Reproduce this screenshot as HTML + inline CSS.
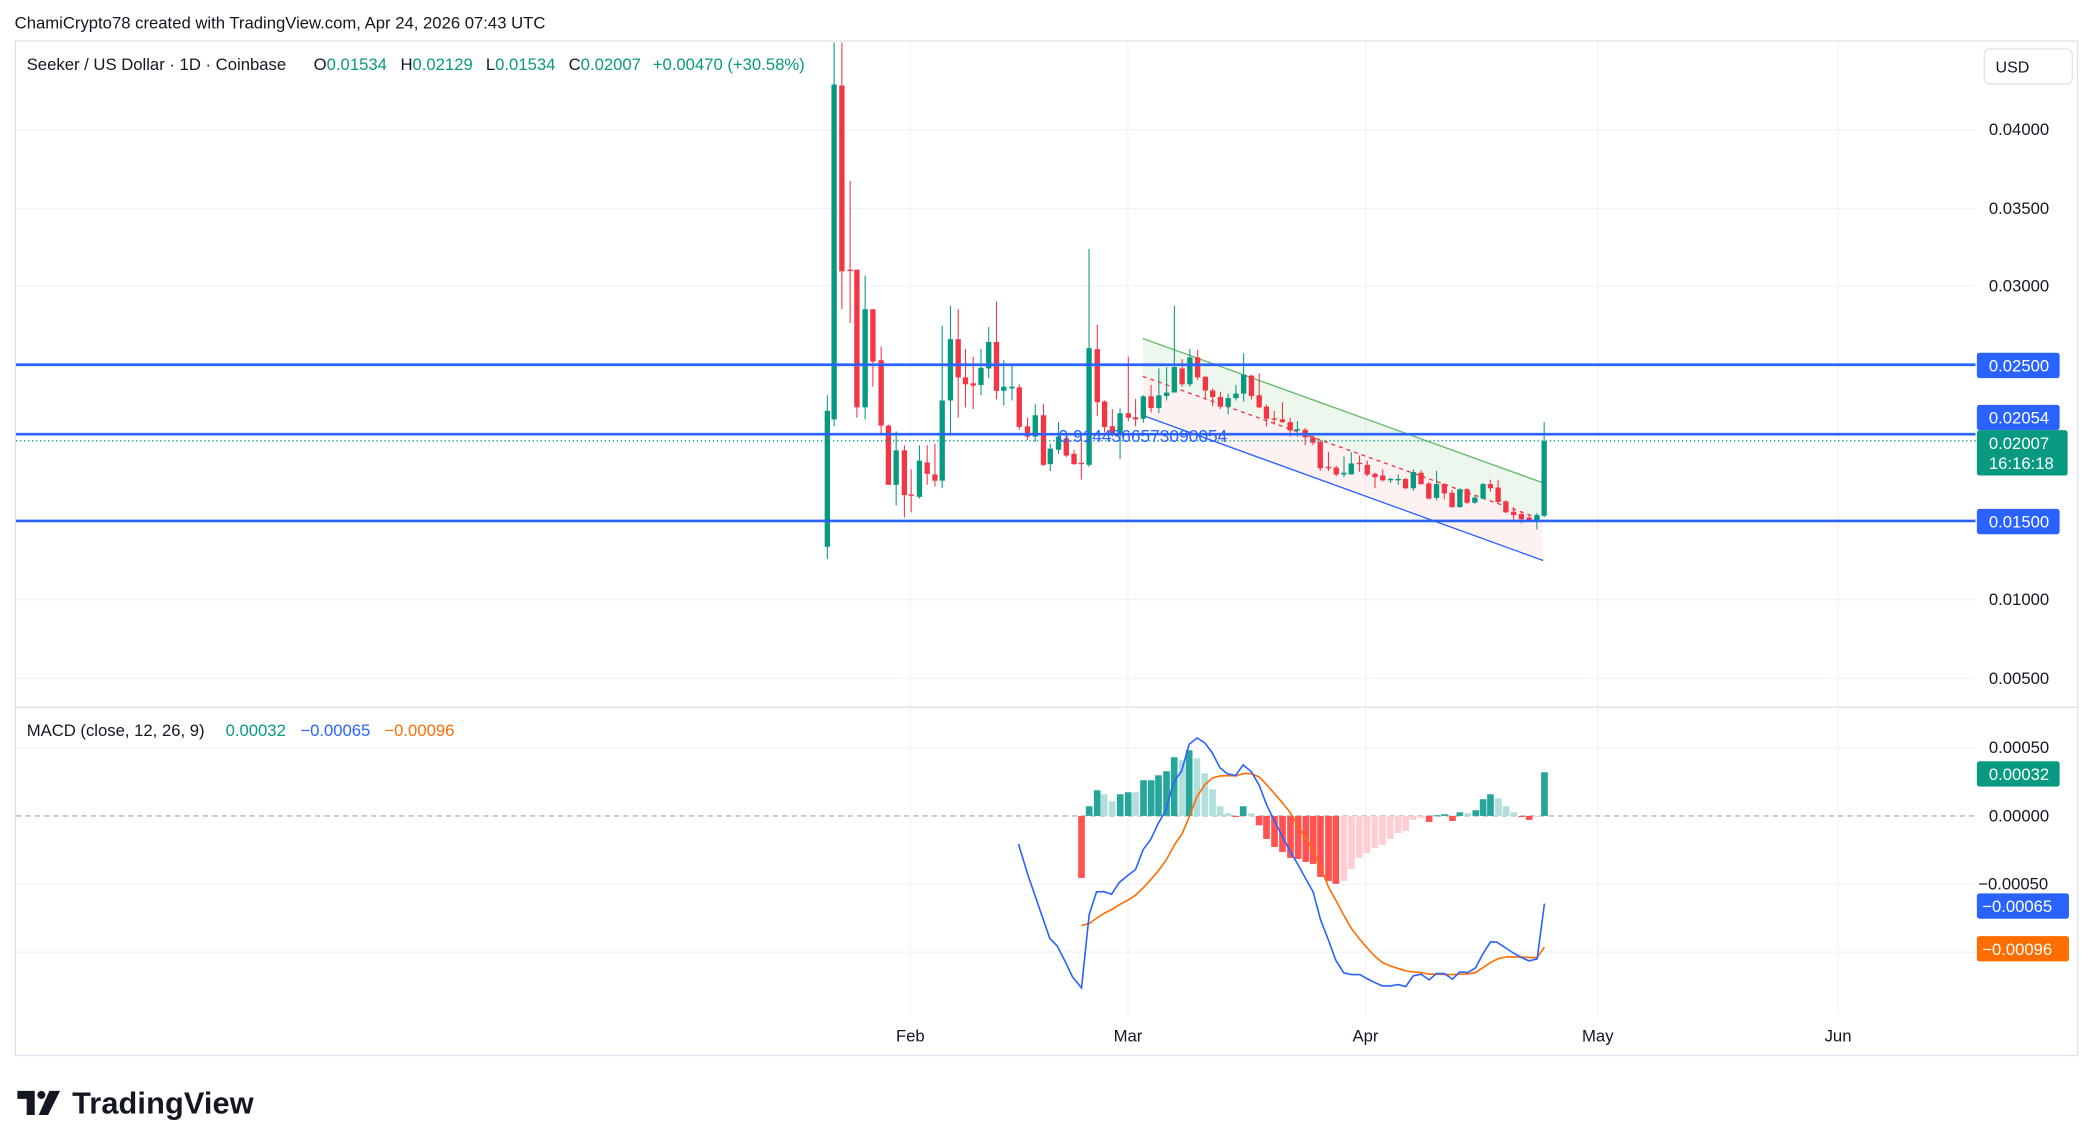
<!DOCTYPE html>
<html><head><meta charset="utf-8"><style>
html,body{margin:0;padding:0;background:#fff;}
svg{display:block;font-family:"Liberation Sans",sans-serif;}
</style></head><body>
<svg id="c" width="2093" height="1146" viewBox="0 0 1568 858" xmlns="http://www.w3.org/2000/svg">
<rect x="0" y="0" width="1568" height="858" fill="#fff"/>
<text x="11" y="21" font-size="12.5" fill="#131722">ChamiCrypto78 created with TradingView.com, Apr 24, 2026 07:43 UTC</text>
<rect x="11.5" y="30.5" width="1545" height="760" fill="none" stroke="#e0e3eb"/>
<g stroke="#f0f3fa" stroke-width="1">
<line x1="12" y1="97" x2="1480" y2="97"/><line x1="12" y1="156" x2="1480" y2="156"/>
<line x1="12" y1="214" x2="1480" y2="214"/><line x1="12" y1="449" x2="1480" y2="449"/>
<line x1="12" y1="508" x2="1480" y2="508"/><line x1="12" y1="560" x2="1480" y2="560"/>
<line x1="12" y1="662" x2="1480" y2="662"/><line x1="12" y1="713" x2="1480" y2="713"/>
<line x1="682" y1="31" x2="682" y2="760"/><line x1="845" y1="31" x2="845" y2="760"/>
<line x1="1023" y1="31" x2="1023" y2="760"/><line x1="1197" y1="31" x2="1197" y2="760"/>
<line x1="1377" y1="31" x2="1377" y2="760"/>
</g>
<line x1="12" y1="529.5" x2="1556" y2="529.5" stroke="#e0e3eb"/>
<line x1="12" y1="611" x2="1480" y2="611" stroke="#b2b5be" stroke-dasharray="4,3"/>
<g id="chan"></g>
<g id="cand"></g>
<line x1="12" y1="330" x2="1480" y2="330" stroke="#089981" stroke-dasharray="1,2"/>
<line x1="12" y1="273" x2="1480" y2="273" stroke="#2962ff" stroke-width="2"/>
<line x1="12" y1="325" x2="1480" y2="325" stroke="#2962ff" stroke-width="2"/>
<line x1="12" y1="390" x2="1480" y2="390" stroke="#2962ff" stroke-width="2"/>
<text x="793" y="331" font-size="13" fill="#2962ff">0.9144366573090054</text>
<g id="macd"></g>
<!-- header -->
<g font-size="12.5" fill="#131722">
<text x="20" y="52">Seeker / US Dollar · 1D · Coinbase</text>
<text x="235" y="52">O<tspan fill="#089981">0.01534</tspan></text>
<text x="300" y="52">H<tspan fill="#089981">0.02129</tspan></text>
<text x="364" y="52">L<tspan fill="#089981">0.01534</tspan></text>
<text x="426" y="52">C<tspan fill="#089981">0.02007</tspan></text>
<text x="489" y="52" fill="#089981">+0.00470 (+30.58%)</text>
<text x="20" y="551">MACD (close, 12, 26, 9)</text>
<text x="169" y="551" fill="#089981">0.00032</text>
<text x="225" y="551" fill="#2962ff">−0.00065</text>
<text x="288" y="551" fill="#ff6d00">−0.00096</text>
</g>
<!-- axis -->
<rect x="1486.5" y="36.5" width="66" height="26" rx="4" fill="#fff" stroke="#e0e3eb"/>
<text x="1495" y="54" font-size="12" fill="#131722">USD</text>
<g font-size="12.5" fill="#131722">
<text x="1490" y="101">0.04000</text><text x="1490" y="160">0.03500</text>
<text x="1490" y="218">0.03000</text><text x="1490" y="453">0.01000</text>
<text x="1490" y="512">0.00500</text><text x="1490" y="564">0.00050</text>
<text x="1490" y="615">0.00000</text><text x="1482" y="666">−0.00050</text>
</g>
<rect x="1481" y="264" width="62" height="19" rx="2" fill="#2962ff"/><text x="1490" y="278" font-size="12.5" fill="#fff">0.02500</text>
<rect x="1481" y="303" width="62" height="19" rx="2" fill="#2962ff"/><text x="1490" y="317" font-size="12.5" fill="#fff">0.02054</text>
<rect x="1481" y="322" width="68" height="34" rx="2" fill="#089981"/><text x="1490" y="336" font-size="12.5" fill="#fff">0.02007</text><text x="1490" y="351" font-size="12.5" fill="#fff">16:16:18</text>
<rect x="1481" y="381" width="62" height="19" rx="2" fill="#2962ff"/><text x="1490" y="395" font-size="12.5" fill="#fff">0.01500</text>
<rect x="1481" y="570" width="62" height="19" rx="2" fill="#089981"/><text x="1490" y="584" font-size="12.5" fill="#fff">0.00032</text>
<rect x="1481" y="669" width="69" height="19" rx="2" fill="#2962ff"/><text x="1485" y="683" font-size="12.5" fill="#fff">−0.00065</text>
<rect x="1481" y="701" width="69" height="19" rx="2" fill="#ff6d00"/><text x="1485" y="715" font-size="12.5" fill="#fff">−0.00096</text>
<g font-size="12.5" fill="#131722" text-anchor="middle">
<text x="682" y="780">Feb</text><text x="845" y="780">Mar</text><text x="1023" y="780">Apr</text><text x="1197" y="780">May</text><text x="1377" y="780">Jun</text>
</g>
<!-- logo -->
<g fill="#131722"><path d="M13 817h13v18h-6v-12h-7z"/><circle cx="31" cy="820" r="3"/><path d="M37 817h8l-9 18h-7z"/></g>
<text x="54" y="834" font-size="23" font-weight="bold" fill="#131722" textLength="136">TradingView</text>
</svg>
<script>
var NS="http://www.w3.org/2000/svg";
function el(p,t,a){var e=document.createElementNS(NS,t);for(var k in a)e.setAttribute(k,a[k]);p.appendChild(e);return e;}
var cx=function(zx){return (810+zx/2.063)/1.335;}, cy=function(zy){return 22.5+zy*0.2579;};
var ch=document.getElementById("chan");
var u1=[cx(687),cy(895)],u2=[cx(1510),cy(1313)],m1=[cx(687),cy(1005)],m2=[cx(1510),cy(1420)],l1=[cx(690),cy(1120)],l2=[cx(1513),cy(1540)];
el(ch,"polygon",{points:[u1,u2,m2,m1].join(" "),fill:"rgba(76,175,80,0.1)"});
el(ch,"polygon",{points:[m1,m2,l2,l1].join(" "),fill:"rgba(242,54,69,0.07)"});
el(ch,"line",{x1:u1[0],y1:u1[1],x2:u2[0],y2:u2[1],stroke:"#66bb6a","stroke-width":1});
el(ch,"line",{x1:l1[0],y1:l1[1],x2:l2[0],y2:l2[1],stroke:"#2962ff","stroke-width":1});
el(ch,"line",{x1:m1[0],y1:m1[1],x2:m2[0],y2:m2[1],stroke:"#f23645","stroke-width":1,"stroke-dasharray":"3,3"});
var C=[[36,"g",1105,1500,1060,1535],[50,"g",157,1130,35,1150],[66,"r",160,700,35,810],[83,"r",695,699,437,850],[97,"r",695,1095,695,1125],[114,"g",810,1095,712,1130],[130,"r",810,962,810,1035],[147,"r",958,1148,918,1175],[162,"r",1148,1320,1145,1320],[178,"g",1220,1320,1165,1380],[195,"r",1220,1350,1205,1415],[209,"r",1348,1352,1275,1400],[226,"g",1250,1355,1205,1360],[242,"r",1255,1288,1205,1320],[258,"r",1290,1308,1200,1325],[273,"g",1075,1308,858,1330],[290,"g",897,1075,800,1170],[306,"r",897,1008,810,1125],[321,"r",1008,1028,925,1095],[337,"r",1025,1032,948,1100],[353,"g",980,1030,925,1060],[369,"g",905,982,862,1010],[385,"r",905,1047,788,1072],[400,"g",1035,1047,958,1090],[417,"g",1035,1040,975,1075],[432,"r",1037,1152,1028,1160],[449,"r",1150,1180,1125,1190],[465,"g",1118,1180,1085,1195],[482,"r",1118,1262,1085,1265],[496,"g",1215,1260,1200,1280],[513,"g",1180,1218,1138,1230],[529,"r",1185,1235,1170,1240],[545,"r",1230,1260,1218,1262],[560,"r",1256,1260,1185,1305],[576,"g",923,1262,635,1268],[593,"r",926,1080,855,1120],[608,"r",1078,1152,1075,1168],[624,"r",1150,1175,1100,1180],[640,"g",1112,1175,1098,1245],[657,"r",1112,1125,948,1135],[672,"r",1124,1130,1070,1150],[688,"g",1063,1128,1060,1140],[704,"r",1063,1097,1030,1110],[720,"g",1060,1097,982,1112],[736,"g",1052,1062,978,1075],[752,"g",978,1052,800,1052],[768,"r",982,1028,955,1035],[784,"g",950,1028,925,1035],[800,"r",950,1008,928,1015],[816,"r",1006,1046,1005,1070],[831,"r",1046,1065,1040,1092],[847,"r",1065,1093,1050,1100],[863,"g",1068,1093,1055,1115],[879,"g",1055,1068,1030,1075],[895,"g",1000,1055,938,1078],[911,"r",1003,1062,1000,1072],[927,"r",1060,1095,996,1098],[942,"r",1093,1128,1087,1150],[958,"r",1127,1131,1105,1145],[975,"r",1130,1138,1080,1140],[991,"r",1138,1162,1125,1180],[1006,"g",1158,1162,1135,1180],[1022,"r",1160,1182,1155,1205],[1038,"r",1182,1198,1170,1205],[1053,"r",1195,1272,1190,1280],[1070,"r",1268,1272,1225,1280],[1086,"r",1270,1290,1265,1295],[1102,"g",1285,1290,1238,1298],[1117,"g",1258,1290,1225,1290],[1134,"r",1256,1260,1235,1282],[1150,"r",1262,1290,1250,1295],[1166,"r",1288,1298,1285,1330],[1182,"r",1293,1307,1275,1310],[1198,"g",1303,1307,1300,1315],[1214,"g",1303,1307,1290,1320],[1229,"r",1303,1330,1300,1333],[1245,"g",1283,1330,1275,1338],[1261,"r",1285,1318,1278,1320],[1277,"r",1316,1360,1312,1362],[1293,"g",1318,1358,1280,1365],[1309,"r",1318,1345,1315,1362],[1325,"r",1343,1385,1335,1386],[1341,"g",1333,1385,1330,1386],[1356,"r",1333,1372,1330,1375],[1372,"g",1357,1372,1350,1375],[1389,"g",1318,1360,1315,1362],[1404,"r",1318,1330,1305,1340],[1420,"r",1328,1370,1305,1372],[1436,"r",1368,1400,1365,1402],[1452,"r",1398,1408,1385,1422],[1468,"r",1405,1420,1400,1432],[1484,"r",1415,1425,1405,1428],[1500,"g",1408,1425,1402,1450],[1515,"g",1193,1410,1138,1415]];
var cg=document.getElementById("cand");
C.forEach(function(c){var x=cx(c[0]),col=c[1]=="g"?"#089981":"#f23645";
el(cg,"line",{x1:x,y1:cy(c[4]),x2:x,y2:cy(c[5]),stroke:col,"stroke-width":0.8});
var t=cy(c[2]),b=cy(c[3]);if(b-t<1)b=t+1;
el(cg,"rect",{x:x-2,y:t,width:4,height:b-t,fill:col});});
var mx=function(zx){return (1050+zx/3)/1.335;}, my=function(zy){return (720+zy/3)/1.335;};
var H=[[95,473,"R"],[118,258,"G"],[142,210,"G"],[163,222,"g"],[187,243,"g"],[211,222,"G"],[235,216,"G"],[257,216,"g"],[281,180,"G"],[304,180,"G"],[326,165,"G"],[350,153,"G"],[373,111,"G"],[397,120,"g"],[418,90,"G"],[441,114,"g"],[465,159,"g"],[488,207,"g"],[511,258,"g"],[535,279,"g"],[558,289,"R"],[580,258,"G"],[604,279,"g"],[628,315,"R"],[650,356,"R"],[674,380,"R"],[698,395,"R"],[722,413,"R"],[745,416,"R"],[768,425,"R"],[790,431,"R"],[812,470,"R"],[836,482,"R"],[858,491,"R"],[882,482,"r"],[905,446,"r"],[928,413,"r"],[951,398,"r"],[975,383,"r"],[998,374,"r"],[1021,356,"r"],[1045,338,"r"],[1068,332,"r"],[1090,299,"r"],[1114,293,"r"],[1138,305,"R"],[1160,285,"G"],[1184,282,"G"],[1208,302,"R"],[1230,276,"G"],[1254,279,"g"],[1278,270,"G"],[1300,237,"G"],[1322,222,"G"],[1346,234,"g"],[1369,258,"g"],[1392,276,"g"],[1415,290,"R"],[1438,299,"R"],[1462,290,"r"],[1484,156,"G"]];
var cols={G:"#26a69a",g:"#b2dfdb",R:"#ff5252",r:"#ffcdd2"};
var mg=document.getElementById("macd");var z=my(287);
H.forEach(function(h){var x=mx(h[0]),y=my(h[1]);el(mg,"rect",{x:x-2.5,y:Math.min(y,z),width:5,height:Math.max(Math.abs(y-z),0.8),fill:cols[h[2]]});});
var B=[[0,655],[22,677],[45,722],[68,770],[95,803],[118,583],[140,515],[162,514],[185,522],[208,487],[233,466],[257,448],[280,388],[303,357],[325,310],[348,270],[371,187],[395,153],[418,72],[442,53],[465,68],[487,97],[510,142],[532,160],[557,166],[580,134],[605,155],[628,195],[650,253],[674,302],[698,350],[722,395],[745,434],[768,476],[790,515],[812,598],[836,660],[858,720],[882,758],[905,763],[930,763],[953,776],[975,787],[998,797],[1022,797],[1045,793],[1068,799],[1090,767],[1114,762],[1138,779],[1160,760],[1184,760],[1208,777],[1230,755],[1254,757],[1277,743],[1300,700],[1322,665],[1340,665],[1369,684],[1392,699],[1415,712],[1438,722],[1462,716],[1484,550]];
var O=[[95,616],[118,610],[140,594],[163,579],[187,567],[211,552],[235,539],[257,525],[280,503],[303,478],[326,451],[350,418],[373,375],[397,340],[418,290],[441,230],[465,193],[488,173],[511,167],[535,166],[558,167],[580,160],[604,160],[628,170],[650,193],[674,220],[698,248],[722,278],[745,318],[768,355],[790,390],[812,440],[836,500],[858,540],[882,585],[905,625],[928,655],[951,682],[975,708],[998,727],[1021,737],[1045,745],[1068,752],[1090,755],[1114,757],[1138,762],[1160,762],[1184,763],[1208,763],[1230,762],[1254,761],[1277,757],[1300,742],[1322,727],[1346,715],[1369,710],[1392,710],[1415,710],[1438,712],[1462,712],[1484,680]];
var pre=[[763,632],[770,655]];
var bp=pre.map(function(p){return p.join(",");}).concat(B.map(function(p){return mx(p[0])+","+my(p[1]);}));
el(mg,"polyline",{points:O.map(function(p){return mx(p[0])+","+my(p[1]);}).join(" "),fill:"none",stroke:"#ff6d00","stroke-width":1.2});
el(mg,"polyline",{points:bp.join(" "),fill:"none",stroke:"#2962ff","stroke-width":1.2});
</script>
</body></html>
